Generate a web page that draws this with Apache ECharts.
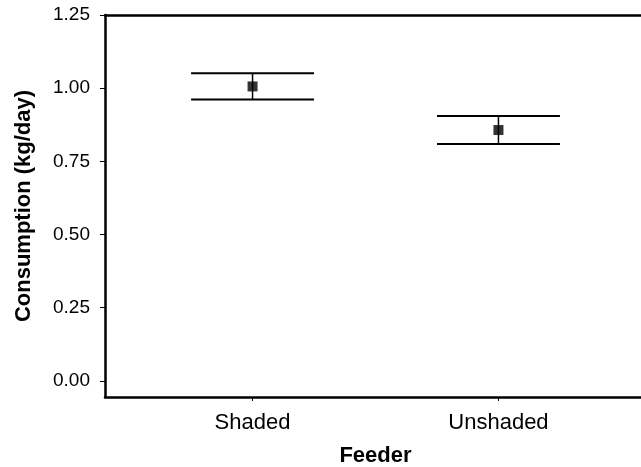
<!DOCTYPE html>
<html>
<head>
<meta charset="utf-8">
<script src="https://cdn.jsdelivr.net/npm/echarts@6/dist/echarts.min.js"></script>
<style>
  html, body { margin: 0; padding: 0; background: #fff; }
  #chart { width: 641px; height: 467px; }
</style>
</head>
<body>
<div id="chart"></div>
<script>
// ===== 数据 =====
const feeders = ['Shaded', 'Unshaded'];
const feederPos = [1, 2];
const means = [1.006, 0.857];
const errors = [0.045, 0.048];
const yTicks = [0, 0.25, 0.5, 0.75, 1.0, 1.25];

const FONT = '"Liberation Sans", Arial, sans-serif';
const CAP_HALF = 0.25;

const chart = echarts.init(document.getElementById('chart'), null, { renderer: 'canvas' });

const barData = feederPos.map(function (x, i) {
  return [x, means[i] - errors[i], means[i] + errors[i]];
});
const meanData = feederPos.map(function (x, i) { return [x, means[i]]; });

chart.setOption({
  animation: false,
  grid: { left: 105, right: -5, top: 15, bottom: 70, outerBoundsMode: 'none', containLabel: false },
  xAxis: [{
    type: 'value',
    min: 0.4,
    max: 2.6,
    name: 'Feeder',
    nameLocation: 'middle',
    nameGap: 48,
    nameTextStyle: { fontFamily: FONT, fontSize: 22, fontWeight: 'bold', color: '#000' },
    splitLine: { show: false },
    axisLine: { onZero: false, lineStyle: { color: '#000', width: 2.5 } },
    axisTick: { customValues: feederPos, length: 4, lineStyle: { color: '#000', width: 1 } },
    axisLabel: {
      customValues: feederPos,
      margin: 15,
      fontFamily: FONT,
      fontSize: 22,
      color: '#000',
      formatter: function (v) { return feeders[feederPos.indexOf(v)] || ''; }
    }
  }, {
    type: 'value',
    position: 'top',
    min: 0.4,
    max: 2.6,
    splitLine: { show: false },
    axisLine: { onZero: false, lineStyle: { color: '#000', width: 2.5 } },
    axisTick: { show: false },
    axisLabel: { show: false }
  }],
  yAxis: {
    type: 'value',
    min: -0.055,
    max: 1.25,
    name: 'Consumption (kg/day)',
    nameLocation: 'middle',
    nameGap: 70,
    nameTextStyle: { fontFamily: FONT, fontSize: 22, fontWeight: 'bold', color: '#000' },
    splitLine: { show: false },
    axisLine: { onZero: false, lineStyle: { color: '#000', width: 2.5 } },
    axisTick: { customValues: yTicks, length: 5, lineStyle: { color: '#000', width: 1 } },
    axisLabel: {
      customValues: yTicks,
      margin: 15,
      fontFamily: FONT,
      fontSize: 19,
      color: '#000',
      formatter: function (v) { return v.toFixed(2); }
    }
  },
  series: [{
    type: 'custom',
    data: barData,
    renderItem: function (params, api) {
      const x = api.value(0);
      const lo = api.value(1);
      const hi = api.value(2);
      const top = api.coord([x, hi]);
      const bot = api.coord([x, lo]);
      const tl = api.coord([x - CAP_HALF, hi]);
      const tr = api.coord([x + CAP_HALF, hi]);
      const bl = api.coord([x - CAP_HALF, lo]);
      const br = api.coord([x + CAP_HALF, lo]);
      return {
        type: 'group',
        children: [
          { type: 'line', shape: { x1: top[0], y1: top[1], x2: bot[0], y2: bot[1] }, style: { stroke: '#000', lineWidth: 1.5 } },
          { type: 'line', shape: { x1: tl[0], y1: tl[1], x2: tr[0], y2: tr[1] }, style: { stroke: '#000', lineWidth: 2 } },
          { type: 'line', shape: { x1: bl[0], y1: bl[1], x2: br[0], y2: br[1] }, style: { stroke: '#000', lineWidth: 2 } }
        ]
      };
    },
    z: 2
  }, {
    type: 'scatter',
    data: meanData,
    symbol: 'rect',
    symbolSize: 10,
    itemStyle: { color: '#000' },
    z: 3
  }]
});
</script>
</body>
</html>
